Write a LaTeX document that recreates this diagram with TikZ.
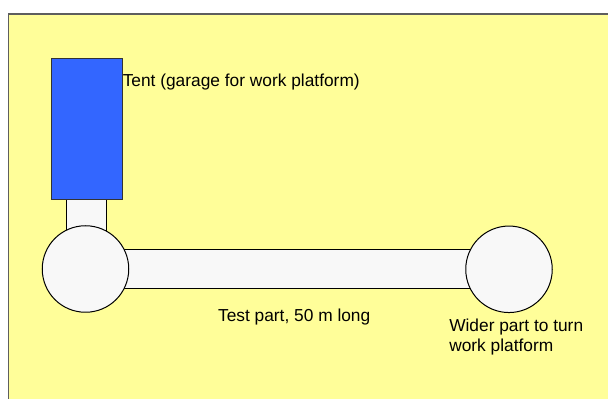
\documentclass[tikz,border=0pt]{standalone}
\usepackage{fontspec}
\setmainfont{Liberation Sans}
\definecolor{pad}{HTML}{FFFE99}
\definecolor{tentblue}{HTML}{3366FF}
\definecolor{track}{HTML}{F8F8F8}
\definecolor{frame}{HTML}{5E5E5E}
\begin{document}
\begin{tikzpicture}[x=0.75pt,y=-0.75pt,
  part/.style={draw=black, line width=0.75pt, fill=track, inner sep=0pt},
  tentbox/.style={draw=black!80, line width=0.75pt, fill=tentblue, inner sep=0pt,
    minimum width=71*0.75pt, minimum height=141*0.75pt},
  turn/.style={part, circle, minimum size=86.5*0.75pt},
  label/.style={inner sep=0pt, anchor=base west, font=\fontsize{13pt}{15pt}\selectfont},
]
\useasboundingbox (0,0) rectangle (608,399);
\clip (0,0) rectangle (608,399);
% test area background
\fill[white] (0,0) rectangle (608,399);
\draw[frame, fill=pad, line width=1.2pt] (8.5,14) rectangle (640,430);
% straight test section and the neck from the tent
\node[part, minimum width=424*0.75pt, minimum height=39*0.75pt] (bar) at (297,269.5) {};
\node[part, minimum width=40*0.75pt, minimum height=60*0.75pt] (neck) at (86,230) {};
% turning circles
\node[turn] (lturn) at (85.5,269) {};
\node[turn] (rturn) at (509,269.3) {};
% tent
\node[tentbox] (tent) at (86.5,129.5) {};
% labels
\node[label] (tentlbl) at (122.5,86.7) {Tent (garage for work platform)};
\node[label] (testlbl) at (217.8,321.7) {Test part, 50 m long};
\node[label] (widelbl1) at (449,331.7) {Wider part to turn};
\node[label] (widelbl2) at (449,351.7) {work platform};
\end{tikzpicture}
\end{document}
